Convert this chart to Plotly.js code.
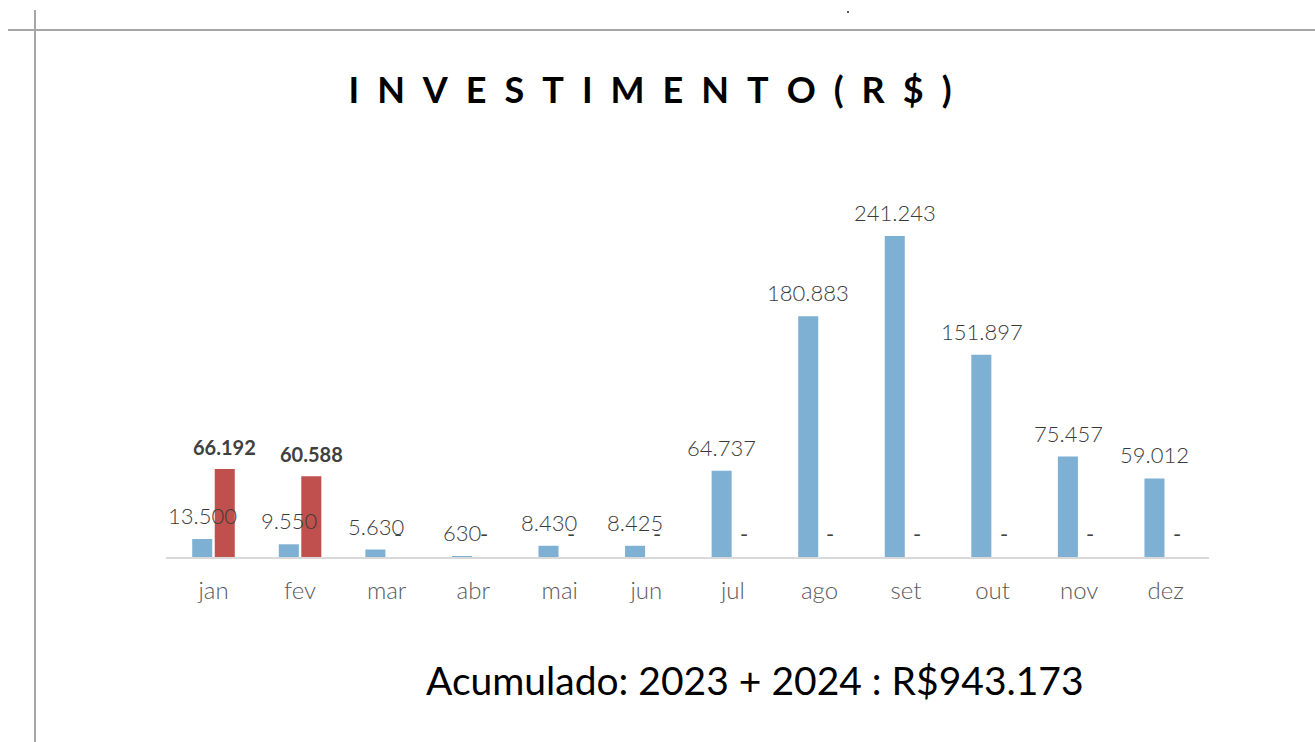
<!DOCTYPE html>
<html>
<head>
<meta charset="utf-8">
<script src="https://cdn.plot.ly/plotly-3.0.1.min.js"></script>
<style>
html,body{margin:0;padding:0;background:#fff;}
#chart{width:1315px;height:742px;}
</style>
</head>
<body>
<div id="chart"></div>
<script>
const months = ['jan','fev','mar','abr','mai','jun','jul','ago','set','out','nov','dez'];
const values2023 = [13500, 9550, 5630, 630, 8430, 8425, 64737, 180883, 241243, 151897, 75457, 59012];
const values2024 = [66192, 60588, 0, 0, 0, 0, 0, 0, 0, 0, 0, 0];
const titleText = 'INVESTIMENTO(R$)';
const footerText = 'Acumulado: 2023 + 2024 : R$943.173';

function fmt(v){
  if (v === 0) return '-';
  return String(v).replace(/\B(?=(\d{3})+(?!\d))/g, '.');
}

const L = 166, R = 106, T = 170, B = 185;
const W = 1315 - L - R, H = 742 - T - B;
function px(x){ return (x - L) / W; }
function py(y){ return (742 - B - y) / H; }

const traces = [
  {type:'bar', name:'2023', x:months, y:values2023, marker:{color:'#7DB0D2'}, hoverinfo:'x+y'},
  {type:'bar', name:'2024', x:months, y:values2024, marker:{color:'#C0504D'}, hoverinfo:'x+y'}
];

const FONT = 'Lato, "DejaVu Sans", sans-serif';
const annotations = [];
months.forEach((m,i)=>{
  annotations.push({x:m, y:values2023[i], xref:'x', yref:'y', xshift:-11, yshift:8,
    yanchor:'bottom', xanchor:'center', showarrow:false, text:fmt(values2023[i]),
    font:{family:FONT, size:22, color:'#3A3A3A', weight:300}});
  const v = values2024[i];
  annotations.push({x:m, y:v, xref:'x', yref:'y', xshift:11, yshift:8,
    yanchor:'bottom', xanchor:'center', showarrow:false, text:fmt(v),
    font: v===0 ? {family:FONT, size:22, color:'#404040'}
               : {family:FONT, size:20, color:'#404040', weight:'bold'}});
});
annotations.push({xref:'paper', yref:'paper', x:px(755), y:py(680), xanchor:'center', yanchor:'middle',
  showarrow:false, text:footerText, font:{family:FONT, size:39, color:'#000'}});

const shapes = [
  {type:'line', xref:'paper', yref:'paper', x0:px(8), x1:px(1315), y0:py(30), y1:py(30), line:{color:'#A6A6A6', width:2}},
  {type:'line', xref:'paper', yref:'paper', x0:px(35), x1:px(35), y0:py(10), y1:py(742), line:{color:'#A6A6A6', width:2}},
  {type:'rect', xref:'paper', yref:'paper', x0:px(847), x1:px(849), y0:py(11), y1:py(13), line:{width:0}, fillcolor:'#555'}
];

const layout = {
  width:1315, height:742,
  margin:{l:L, r:R, t:T, b:B},
  paper_bgcolor:'#fff', plot_bgcolor:'#fff',
  showlegend:false,
  barmode:'group', bargap:0.48, bargroupgap:0.11,
  title:{text: titleText.split('').join('\u2002'), xref:'container', yref:'container', x:650/1315, y:1-90/742,
    xanchor:'center', yanchor:'middle', font:{family:FONT, size:36, color:'#000', weight:'bold'}},
  xaxis:{type:'category', showline:true, linecolor:'#D9D9D9', linewidth:2, showgrid:false, zeroline:false,
    ticks:'', ticklabelstandoff:11, tickfont:{family:FONT, size:24, color:'#595959', weight:300}},
  yaxis:{range:[0, 290800], visible:false, showgrid:false, zeroline:false},
  annotations: annotations,
  shapes: shapes
};

Plotly.newPlot('chart', traces, layout, {displayModeBar:false});
</script>
</body>
</html>
